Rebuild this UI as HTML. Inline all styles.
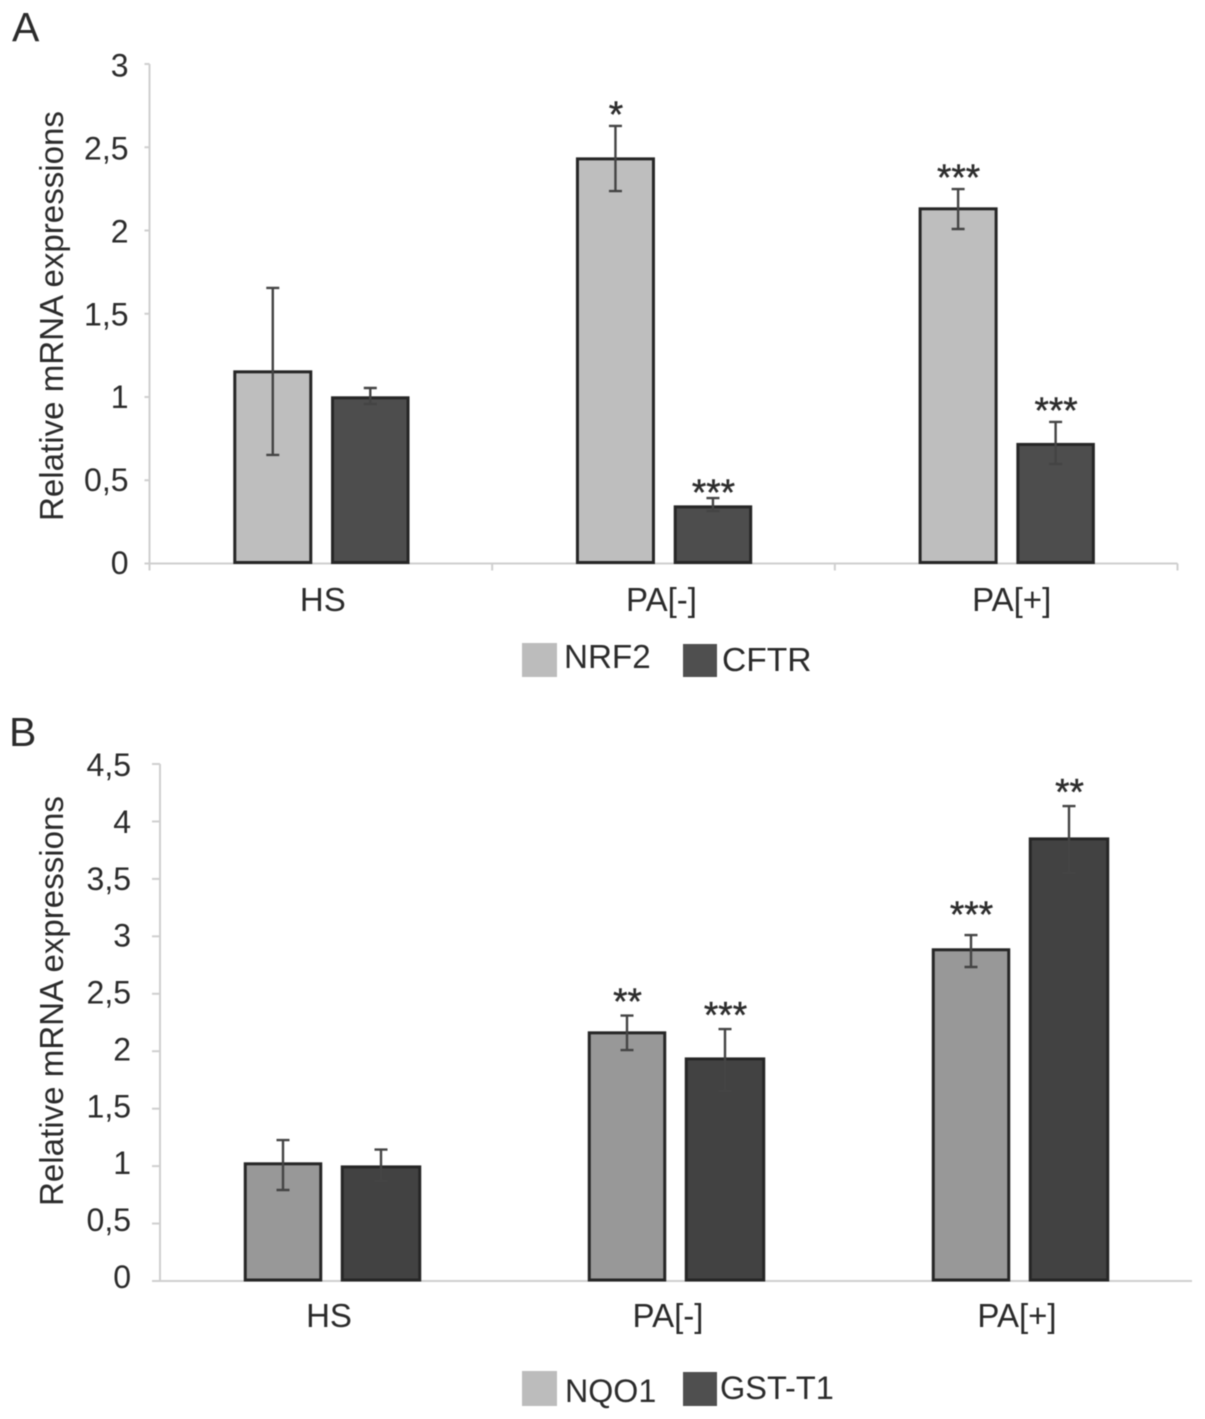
<!DOCTYPE html>
<html lang="en">
<head>
<meta charset="utf-8">
<title>Relative mRNA expressions</title>
<style>
html,body{margin:0;padding:0;background:#fff;}
body{width:1205px;height:1419px;overflow:hidden;}
svg{display:block;filter:blur(0.6px);}
text{font-family:"Liberation Sans",sans-serif;fill:#2b2b2b;}
</style>
</head>
<body>
<svg id="figure" xmlns="http://www.w3.org/2000/svg" width="1205" height="1419" viewBox="0 0 1205 1419">
  <rect x="0" y="0" width="1205" height="1419" fill="#fff"/>
  <text x="12" y="41" font-size="41">A</text>
  <text x="9" y="746" font-size="41">B</text>
  <text transform="translate(63,521) rotate(-90)" font-size="33.1">Relative mRNA expressions</text>
  <text transform="translate(63,1206) rotate(-90)" font-size="33.1">Relative mRNA expressions</text>

  <g>
    <rect x="522" y="643" width="35" height="34" fill="#bcbcbc"/>
    <text x="564" y="668" font-size="33.2">NRF2</text>
    <rect x="683" y="644" width="34" height="33" fill="#4f4f4f"/>
    <text x="722" y="671" font-size="33.6">CFTR</text>
  </g>
  <g>
    <rect x="522" y="1371" width="35" height="35" fill="#bcbcbc"/>
    <text x="565" y="1402" font-size="32.2">NQO1</text>
    <rect x="683" y="1372" width="34" height="34" fill="#4f4f4f"/>
    <text x="720" y="1399" font-size="32.5">GST-T1</text>
  </g>
</svg>
<script>
// ---- Panel A data ----
const categoriesA = ["HS", "PA[-]", "PA[+]"];
const tickValuesA = [0, 0.5, 1, 1.5, 2, 2.5, 3];
const tickLabelsA = ["0", "0,5", "1", "1,5", "2", "2,5", "3"];
const nrf2Values = [1.156, 2.435, 2.135];
const nrf2High = [1.655, 2.628, 2.249];
const nrf2Low = [0.652, 2.237, 2.009];
const nrf2Stars = ["", "*", "***"];
const cftrValues = [1.0, 0.345, 0.72];
const cftrHigh = [1.054, 0.393, 0.85];
const cftrLow = [0.958, 0.315, 0.598];
const cftrStars = ["", "***", "***"];

// ---- Panel B data ----
const categoriesB = ["HS", "PA[-]", "PA[+]"];
const tickValuesB = [0, 0.5, 1, 1.5, 2, 2.5, 3, 3.5, 4, 4.5];
const tickLabelsB = ["0", "0,5", "1", "1,5", "2", "2,5", "3", "3,5", "4", "4,5"];
const nqo1Values = [1.027, 2.167, 2.89];
const nqo1High = [1.227, 2.31, 3.011];
const nqo1Low = [0.792, 2.01, 2.733];
const nqo1Stars = ["", "**", "***"];
const gstValues = [1.0, 1.94, 3.855];
const gstHigh = [1.144, 2.193, 4.134];
const gstLow = [0.87, 1.654, 3.551];
const gstStars = ["", "***", "**"];

const svg = document.getElementById('figure');
const NS = 'http://www.w3.org/2000/svg';

function make(tag, props, parent) {
  const node = document.createElementNS(NS, tag);
  for (const key in props) node.setAttribute(key, props[key]);
  parent.appendChild(node);
  return node;
}

function drawPanel(cfg) {
  const root = make('g', {}, svg);
  
  

  const yScale = v => cfg.y0 - (v / cfg.yMax) * (cfg.y0 - cfg.yTop);
  const band = (cfg.xRight - cfg.xLeft) / cfg.categories.length;
  const xCenter = i => cfg.xLeft + band * (i + 0.5);

  // value axis
  const yAxis = make('line', {x1: cfg.xLeft, x2: cfg.xLeft, y1: cfg.yTop, y2: cfg.y0, stroke: '#cfcfcf', 'stroke-width': 2}, root);
  
  

  cfg.tickValues.forEach((v, i) => {
    const tick = make('line', {x1: cfg.xLeft - cfg.tickLen, x2: cfg.xLeft, y1: yScale(v), y2: yScale(v), stroke: '#cfcfcf', 'stroke-width': 2}, root);
    
    
    const label = make('text', {x: cfg.labelRight, y: yScale(v) + cfg.labelDyBottom + (v / cfg.yMax) * (cfg.labelDyTop - cfg.labelDyBottom), 'text-anchor': 'end', 'font-size': 32}, root);
    
    
    label.textContent = cfg.tickLabels[i];
  });

  // category axis (sits beneath the bars)
  const xAxis = make('line', {x1: cfg.xLeft - cfg.tickLen, x2: cfg.xRight, y1: cfg.y0, y2: cfg.y0, stroke: '#cfcfcf', 'stroke-width': 2}, root);
  
  

  if (cfg.xTicks) {
    for (let i = 0; i <= cfg.categories.length; i++) {
      const xt = cfg.xLeft + band * i;
      const tick = make('line', {x1: xt, x2: xt, y1: cfg.y0, y2: cfg.y0 + 7, stroke: '#cfcfcf', 'stroke-width': 2}, root);
      
      
    }
  }

  // bars, error bars, significance marks
  cfg.series.forEach((s, si) => {
    const offset = si === 0 ? -cfg.barOffset : cfg.barOffset;
    cfg.categories.forEach((c, i) => {
      const cx = xCenter(i) + offset + cfg.barShift;
      const top = yScale(s.values[i]) + 0.8;
      const bar = make('rect', {x: cx - s.width / 2, y: top, width: s.width, height: cfg.y0 - 1 - top, fill: s.fill, stroke: '#262626', 'stroke-width': 3}, root);
      
      

      const hi = yScale(s.high[i]);
      const lo = yScale(s.low[i]);
      const err = make('path', {d: 'M' + (cx - 6.5) + ' ' + hi + 'H' + (cx + 6.5) + 'M' + cx + ' ' + hi + 'V' + lo + 'M' + (cx - 6.5) + ' ' + lo + 'H' + (cx + 6.5), fill: 'none', stroke: '#444', 'stroke-width': 2.4}, root);
      
      

      if (s.stars[i]) {
        const star = make('text', {x: cx + 0.5, y: hi - cfg.starGap(si, i) + 17, 'text-anchor': 'middle', 'font-size': 37, fill: '#3a3a3a', stroke: '#3a3a3a', 'stroke-width': 0.5}, root);
        
        
        star.textContent = s.stars[i];
      }
    });
  });

  cfg.categories.forEach((c, i) => {
    const label = make('text', {x: xCenter(i) + cfg.catLabelDx(i), y: cfg.catLabelY, 'text-anchor': 'middle', 'font-size': 33}, root);
    
    
    label.textContent = c;
  });
}

drawPanel({
  id: 'panel-a', categories: categoriesA, tickValues: tickValuesA, tickLabels: tickLabelsA,
  yMax: 3, y0: 563.5, yTop: 64, xLeft: 149.5, xRight: 1177.5, tickLen: 5,
  labelRight: 128.5, labelDyBottom: 10.5, labelDyTop: 12.5, barOffset: 48.75, barShift: 0.7,
  catLabelDx: i => i === 0 ? 2 : (i === 1 ? -2 : 5.5), catLabelY: 611, xTicks: true,
  starGap: (s, c) => (s === 1 && c === 1) ? 10 : 16,
  series: [
    {name: 'nrf2', fill: '#bebebe', width: 76, values: nrf2Values, high: nrf2High, low: nrf2Low, stars: nrf2Stars},
    {name: 'cftr', fill: '#4d4d4d', width: 75.5, values: cftrValues, high: cftrHigh, low: cftrLow, stars: cftrStars}
  ]
});

drawPanel({
  id: 'panel-b', categories: categoriesB, tickValues: tickValuesB, tickLabels: tickLabelsB,
  yMax: 4.5, y0: 1281, yTop: 764, xLeft: 160, xRight: 1192, tickLen: 8,
  labelRight: 131, labelDyBottom: 7, labelDyTop: 12, barOffset: 49, barShift: 0,
  catLabelDx: i => i === 1 ? -8 : -3, catLabelY: 1327, xTicks: false,
  starGap: (s, c) => (s === 0 && c === 2) ? 25 : 18.5,
  series: [
    {name: 'nqo1', fill: '#989898', width: 75.5, values: nqo1Values, high: nqo1High, low: nqo1Low, stars: nqo1Stars},
    {name: 'gst-t1', fill: '#424242', width: 77.5, values: gstValues, high: gstHigh, low: gstLow, stars: gstStars}
  ]
});
</script>
</body>
</html>
